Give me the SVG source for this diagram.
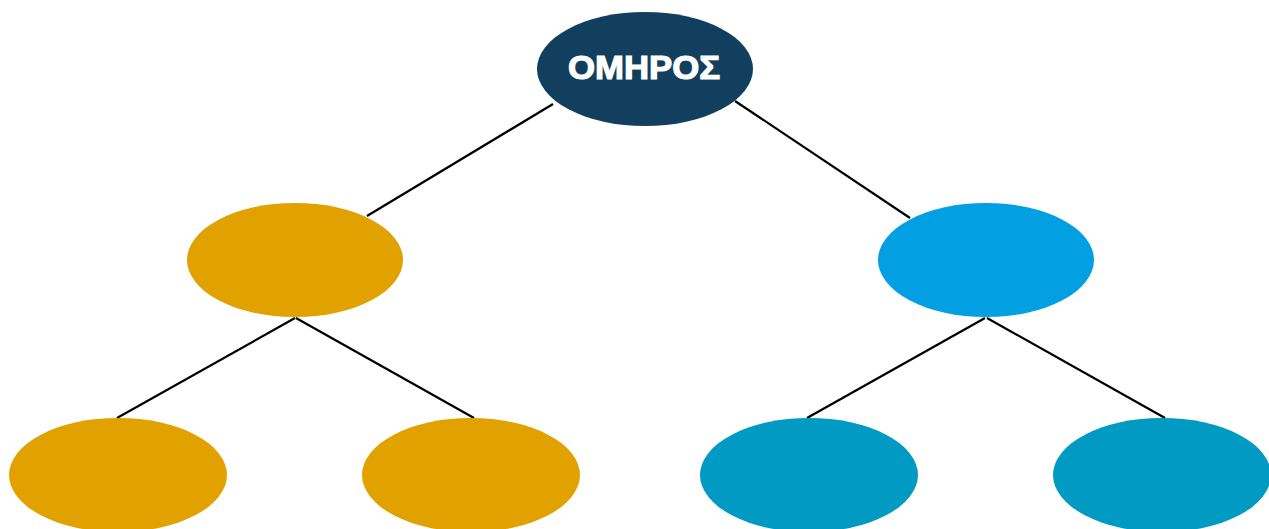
<svg xmlns="http://www.w3.org/2000/svg" width="1269" height="529" viewBox="0 0 1269 529">
<style>
.edge{stroke:#000;stroke-width:2.2;fill:none}
.lbl{font-family:"Liberation Sans",Arial,sans-serif;font-weight:bold;font-size:34px;fill:#fff;stroke:#fff;stroke-width:1.2;text-anchor:middle}
</style>
<rect width="1269" height="529" fill="#fff"/>
<g id="connectors">
<line class="edge" x1="553" y1="104" x2="367" y2="216"/>
<line class="edge" x1="735" y1="101" x2="910" y2="218"/>
<line class="edge" x1="295" y1="318" x2="117" y2="418"/>
<line class="edge" x1="296" y1="318" x2="474" y2="418"/>
<line class="edge" x1="985" y1="318" x2="807" y2="418"/>
<line class="edge" x1="987" y1="318" x2="1165" y2="418"/>
</g>
<g id="root">
<ellipse cx="645" cy="69" rx="108" ry="57" fill="#133F5F"/>
<text class="lbl" x="644" y="79" textLength="152" lengthAdjust="spacingAndGlyphs">ΟΜΗΡΟΣ</text>
</g>
<g id="n-left"><ellipse cx="295" cy="260" rx="108" ry="57" fill="#E1A200"/></g>
<g id="n-right"><ellipse cx="986" cy="260" rx="108" ry="57" fill="#02A0E3"/></g>
<g id="n-ll"><ellipse cx="118" cy="475" rx="109" ry="57" fill="#E1A200"/></g>
<g id="n-lr"><ellipse cx="471" cy="475" rx="109" ry="57" fill="#E1A200"/></g>
<g id="n-rl"><ellipse cx="809" cy="475" rx="109" ry="57" fill="#009AC3"/></g>
<g id="n-rr"><ellipse cx="1162" cy="475" rx="109" ry="57" fill="#009AC3"/></g>
</svg>
